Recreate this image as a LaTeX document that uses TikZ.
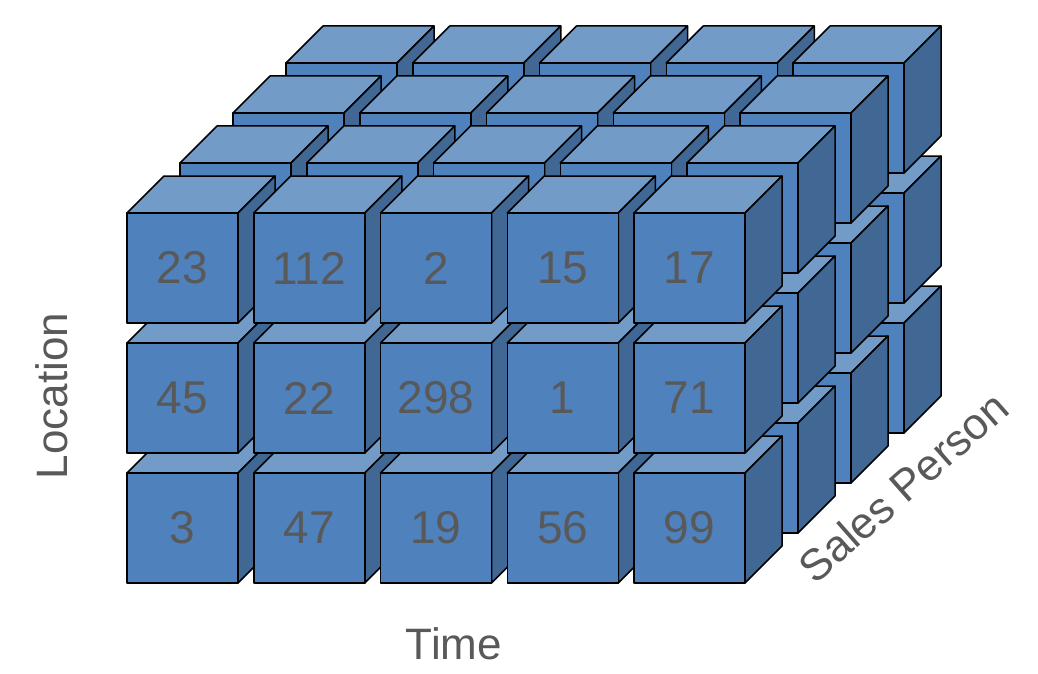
\documentclass[tikz,border=0pt]{standalone}
\usepackage{fontspec}
\setmainfont{Liberation Sans}
\definecolor{cfront}{HTML}{4F81BD}
\definecolor{ctop}{HTML}{729BC8}
\definecolor{cside}{HTML}{416794}
\definecolor{ctext}{HTML}{595959}
\tikzset{
  face/.style={draw=black, line width=1.5pt, line join=round},
  numlabel/.style={text=ctext, font=\fontsize{46}{46}\selectfont, inner sep=0pt},
  axislabel/.style={text=ctext, font=\fontsize{44}{44}\selectfont, inner sep=0pt},
}
\newcommand{\mycube}[2]{%
  % #1 = x, #2 = y of front top-left corner (image coords)
  \fill[ctop,face] (#1,#2) -- ++(37,-37) -- ++(111,0) -- ++(-37,37) -- cycle;
  \fill[cside,face] (#1+111,#2) -- ++(37,-37) -- ++(0,110) -- ++(-37,37) -- cycle;
  \fill[cfront,face] (#1,#2) rectangle ++(111,110);
}
\begin{document}
\begin{tikzpicture}[x=1pt,y=-1pt]
\useasboundingbox (0,0) rectangle (1038,674);
\foreach \l in {3,2,1,0}{
  \foreach \r in {2,1,0}{
    \foreach \c in {0,1,2,3,4}{
      \pgfmathsetmacro{\cx}{127+\c*126.75+\l*53}
      \pgfmathsetmacro{\cy}{213+\r*130-\l*50}
      \mycube{\cx}{\cy}
    }
  }
}
% numbers on the front layer
\foreach \txt [count=\i from 0] in {23,112,2,15,17}{
  \node[numlabel] (n0\i) at ({182.5+\i*126.75},268) {\txt};
}
\foreach \txt [count=\i from 0] in {45,22,298,1,71}{
  \node[numlabel] (n1\i) at ({182.5+\i*126.75},398) {\txt};
}
\foreach \txt [count=\i from 0] in {3,47,19,56,99}{
  \node[numlabel] (n2\i) at ({182.5+\i*126.75},528) {\txt};
}
\node[axislabel, rotate=90] (loc) at (52,396) {Location};
\node[axislabel] (time) at (454,644) {Time};
\node[axislabel, rotate=41.4] (sp) at (903,487) {Sales Person};
\end{tikzpicture}
\end{document}
